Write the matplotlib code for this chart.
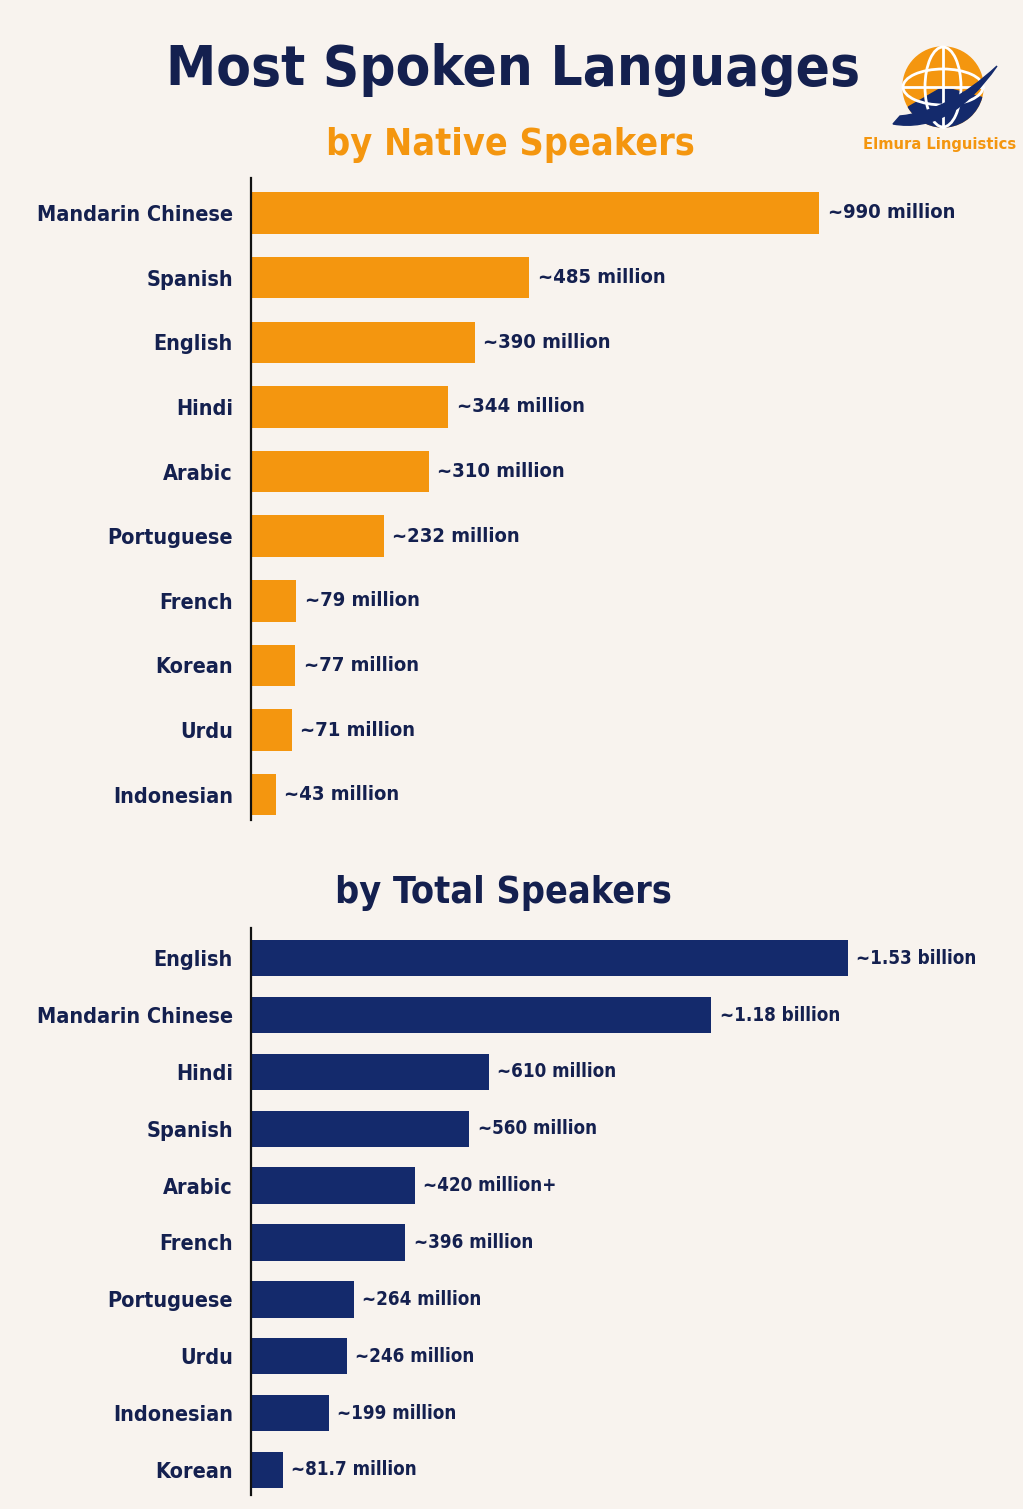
import numpy as np
import matplotlib
matplotlib.use("Agg")
import matplotlib.pyplot as plt
from matplotlib.patches import Circle, Ellipse, PathPatch, Wedge
from matplotlib.path import Path

W, H = 1023, 1509
BG = "#f8f3ee"
ORANGE = "#f4960f"
NAVY = "#142a6c"
TEXT = "#14204f"

plt.rcParams["font.family"] = ["DejaVu Sans"]
plt.rcParams["font.stretch"] = "condensed"
plt.rcParams["font.weight"] = "bold"

# native speakers (millions)
native_langs = ["Mandarin Chinese", "Spanish", "English", "Hindi", "Arabic",
                "Portuguese", "French", "Korean", "Urdu", "Indonesian"]
native_vals = [990, 485, 390, 344, 310, 232, 79, 77, 71, 43]
native_labels = ["~990 million", "~485 million", "~390 million", "~344 million",
                 "~310 million", "~232 million", "~79 million", "~77 million",
                 "~71 million", "~43 million"]

# total speakers (millions)
total_langs = ["English", "Mandarin Chinese", "Hindi", "Spanish", "Arabic",
               "French", "Portuguese", "Urdu", "Indonesian", "Korean"]
total_vals = [1530, 1180, 610, 560, 420, 396, 264, 246, 199, 81.7]
total_labels = ["~1.53 billion", "~1.18 billion", "~610 million", "~560 million",
                "~420 million+", "~396 million", "~264 million", "~246 million",
                "~199 million", "~81.7 million"]

fig = plt.figure(figsize=(W / 100, H / 100), dpi=100, facecolor=BG)


def px_axes(x0, y0, x1, y1):
    return fig.add_axes([x0 / W, 1 - y1 / H, (x1 - x0) / W, (y1 - y0) / H])


def bar_panel(ax, langs, vals, labels, color, xmax, ylim, vsize):
    y = np.arange(len(langs))
    ax.barh(y, vals, height=0.64, color=color, left=0)
    ax.set_xlim(0, xmax)
    ax.set_ylim(*ylim)
    ax.set_yticks(y)
    ax.set_yticklabels(langs, fontsize=15.5, color=TEXT)
    ax.tick_params(axis="y", length=0, pad=13)
    ax.set_xticks([])
    ax.set_facecolor("none")
    for s in ["top", "right", "bottom"]:
        ax.spines[s].set_visible(False)
    ax.spines["left"].set_linewidth(1.6)
    ax.spines["left"].set_color("#111111")
    for yi, v, lab in zip(y, vals, labels):
        ax.annotate(lab, (v, yi), xytext=(6, 0), textcoords="offset points",
                    va="center", ha="left", fontsize=vsize, color=TEXT,
                    fontstretch="condensed")


ax1 = px_axes(251, 178, 1000, 820)
bar_panel(ax1, native_langs, native_vals, native_labels, ORANGE, 1305, (9.39, -0.54), 14.5)

ax2 = px_axes(251, 928, 1000, 1495)
bar_panel(ax2, total_langs, total_vals, total_labels, NAVY, 1920, (9.44, -0.53), 13.5)

# titles
fig.text(513 / W, 1 - 70 / H, "Most Spoken Languages", ha="center", va="center",
         fontsize=40.5, color=TEXT)
fig.text(510 / W, 1 - 145 / H, "by Native Speakers", ha="center", va="center",
         fontsize=27, color=ORANGE)
fig.text(503 / W, 1 - 893 / H, "by Total Speakers", ha="center", va="center",
         fontsize=27, color=TEXT)

# logo
lx = fig.add_axes([0, 0, 1, 1], facecolor="none")
lx.set_xlim(0, W)
lx.set_ylim(H, 0)
lx.axis("off")
cx, cy, r = 943, 87, 40
lx.add_patch(Circle((cx, cy), r, color=ORANGE, zorder=1))
lx.add_patch(Wedge((cx, cy), r, 15, 150, color=NAVY, zorder=1))
lx.add_patch(Ellipse((cx, cy), 2 * r * 0.45, 2 * r, fill=False, ec="white", lw=2, zorder=2))
lx.add_patch(Ellipse((cx, cy), 2 * r, 2 * r * 0.45, fill=False, ec="white", lw=2, zorder=2))
lx.plot([cx, cx], [cy - r, cy + r], color="white", lw=2, zorder=2)
lx.plot([cx - r, cx + r], [cy, cy], color="white", lw=2, zorder=2)
verts = [(893, 124), (950, 134), (997, 66), (948, 112), (900, 116), (893, 124)]
codes = [Path.MOVETO, Path.CURVE3, Path.CURVE3, Path.CURVE3, Path.CURVE3, Path.CLOSEPOLY]
lx.add_patch(PathPatch(Path(verts, codes), fc=NAVY, ec=NAVY, zorder=3))
lx.text(940, 145, "Elmura Linguistics", ha="center", va="center",
        fontsize=11.8, color=ORANGE)

fig.savefig("out.png", dpi=100, facecolor=BG)
